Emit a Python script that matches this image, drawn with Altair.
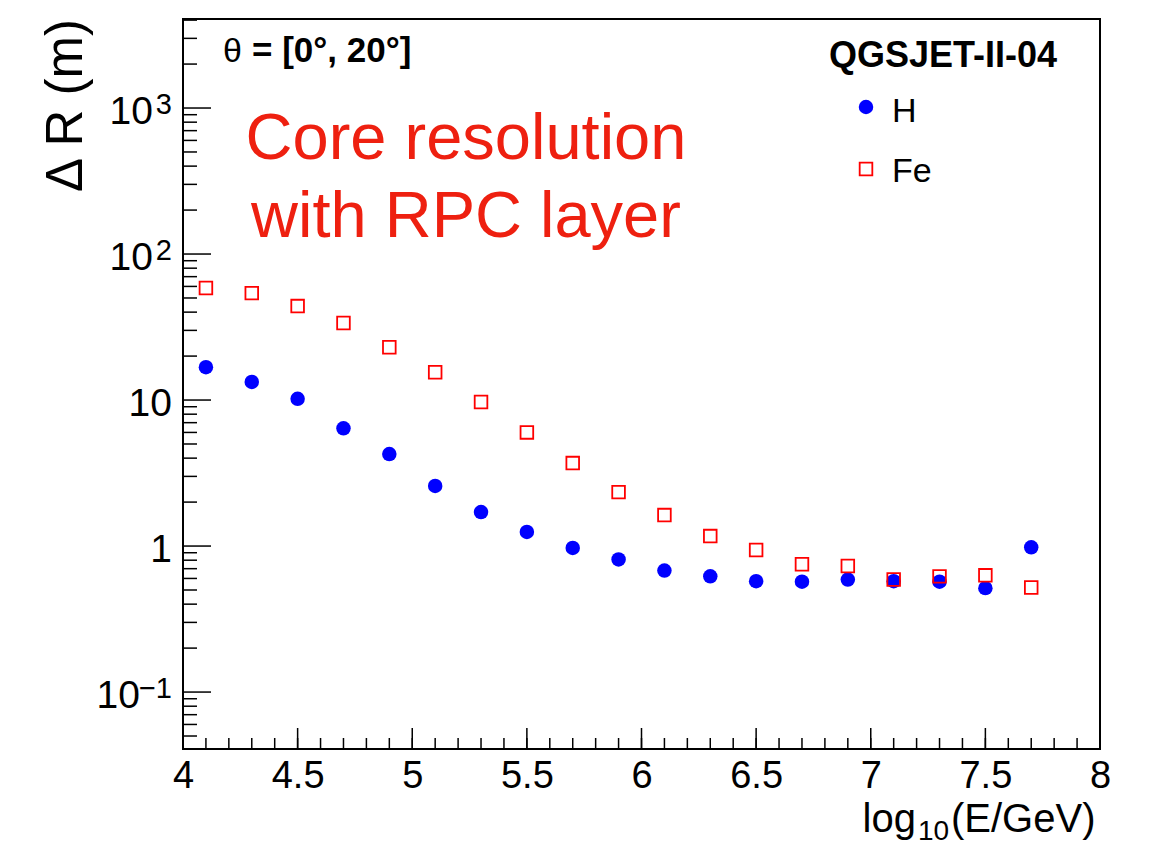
import altair as alt
import pandas as pd

# ---- data ----
E_BINS = [4.1, 4.3, 4.5, 4.7, 4.9, 5.1, 5.3, 5.5, 5.7, 5.9,
          6.1, 6.3, 6.5, 6.7, 6.9, 7.1, 7.3, 7.5, 7.7]
DR_H = [16.8, 13.3, 10.2, 6.4, 4.27, 2.58, 1.71, 1.25, 0.97, 0.81,
        0.68, 0.62, 0.575, 0.57, 0.59, 0.575, 0.57, 0.515, 0.98]
DR_FE = [58.5, 54.0, 44.0, 33.7, 23.0, 15.5, 9.7, 6.0, 3.7, 2.34,
         1.63, 1.17, 0.94, 0.75, 0.73, 0.59, 0.62, 0.63, 0.52]

X_MAJOR = [4.0, 4.5, 5.0, 5.5, 6.0, 6.5, 7.0, 7.5, 8.0]
X_MINOR = [round(4.0 + 0.1 * i, 1) for i in range(41)]
Y_MAJOR = [0.1, 1, 10, 100, 1000]
Y_LABEL_BASE = ["10", "1", "10", "10", "10"]
Y_LABEL_EXP = ["−1", "", "", "2", "3"]
Y_MINOR = [m * 10.0 ** k for k in range(-2, 4) for m in range(2, 10)]
Y_MINOR = [v for v in Y_MINOR if 0.0408 < v < 4070]

X_DOMAIN = [4, 8]
Y_DOMAIN = [0.04074, 4071]

W, H = 917, 730
FONT = "Liberation Sans"
RED_TEXT = "#ee2010"

xscale = alt.Scale(domain=X_DOMAIN, nice=False, zero=False)
yscale = alt.Scale(type="log", domain=Y_DOMAIN, nice=False)

xaxis = alt.Axis(values=X_MAJOR, format="~g", ticks=False, tickSize=0, domain=False,
                 grid=False, labelFont=FONT, labelFontSize=38, labelColor="black",
                 labelPadding=8, labelFlush=False, title="")
yaxis = alt.Axis(values=Y_MAJOR, ticks=False, tickSize=0, domain=False, grid=False,
                 labels=False, title="")

df_h = pd.DataFrame({"x": E_BINS, "y": DR_H})
df_fe = pd.DataFrame({"x": E_BINS, "y": DR_FE})

h_pts = alt.Chart(df_h).mark_point(shape="circle", filled=True, color="#0000ff",
                                   size=210, opacity=1).encode(
    x=alt.X("x:Q", scale=xscale, axis=xaxis),
    y=alt.Y("y:Q", scale=yscale, axis=yaxis),
)
fe_pts = alt.Chart(df_fe).mark_point(shape="square", filled=False, color="#ff0000",
                                     size=160, strokeWidth=1.8, opacity=1).encode(
    x=alt.X("x:Q", scale=xscale, axis=xaxis),
    y=alt.Y("y:Q", scale=yscale, axis=yaxis),
)

# inward ROOT-style ticks
ymaj = alt.Chart(pd.DataFrame({"y": Y_MAJOR})).mark_rule(color="black", strokeWidth=1.5).encode(
    y=alt.Y("y:Q", scale=yscale, axis=yaxis), x=alt.value(0), x2=alt.value(28))
ymin = alt.Chart(pd.DataFrame({"y": Y_MINOR})).mark_rule(color="black", strokeWidth=1.5).encode(
    y=alt.Y("y:Q", scale=yscale, axis=yaxis), x=alt.value(0), x2=alt.value(14))
xmaj = alt.Chart(pd.DataFrame({"x": X_MAJOR})).mark_rule(color="black", strokeWidth=1.5).encode(
    x=alt.X("x:Q", scale=xscale, axis=xaxis), y=alt.value(H), y2=alt.value(H - 21))
xmin = alt.Chart(pd.DataFrame({"x": X_MINOR})).mark_rule(color="black", strokeWidth=1.5).encode(
    x=alt.X("x:Q", scale=xscale, axis=xaxis), y=alt.value(H), y2=alt.value(H - 11))

# y tick labels with real superscripts (ROOT style)
ylab_df = pd.DataFrame({"y": Y_MAJOR, "b": Y_LABEL_BASE, "e": Y_LABEL_EXP})
ylab_base = alt.Chart(ylab_df)


def ybase(filt, x):
    return ylab_base.transform_filter(filt).mark_text(
        font=FONT, fontSize=39, align="right", baseline="alphabetic", dy=16, color="black").encode(
        y=alt.Y("y:Q", scale=yscale, axis=yaxis), x=alt.value(x), text="b:N")


ylab_plain = ybase("datum.e == ''", -11)
ylab_e1 = ybase("length(datum.e) == 1", -30)
ylab_e2 = ybase("length(datum.e) == 2", -43)
ylab_exp = ylab_base.transform_filter("datum.e != ''").mark_text(
    font=FONT, fontSize=29, align="right", baseline="alphabetic", dy=6, color="black").encode(
    y=alt.Y("y:Q", scale=yscale, axis=yaxis), x=alt.value(-11), text="e:N")


def label(text, x, y, size, **kw):
    return alt.Chart(pd.DataFrame({"t": [text]})).mark_text(
        font=FONT, fontSize=size, **kw).encode(
        x=alt.value(x), y=alt.value(y), text="t:N")


texts = [
    # axis titles
    label("Δ R (m)", -101, 0, 51, angle=270, align="right", baseline="alphabetic", color="black"),
    label("log", 733, 813, 40, align="right", baseline="alphabetic", color="black"),
    label("10", 735, 821, 28, align="left", baseline="alphabetic", color="black"),
    label("(E/GeV)", 768, 813, 40, align="left", baseline="alphabetic", color="black"),
    # header texts
    label("θ", 40, 43, 34, align="left", baseline="alphabetic", color="black"),
    label("= [0°, 20°]", 69, 43, 35, align="left", baseline="alphabetic",
          color="black", fontWeight="bold"),
    label("QGSJET-II-04", 760, 48, 36, align="center", baseline="alphabetic",
          color="black", fontWeight="bold"),
    label("H", 709, 103, 34, align="left", baseline="alphabetic", color="black"),
    label("Fe", 709, 163, 34, align="left", baseline="alphabetic", color="black"),
    label("Core resolution", 283, 140, 65, align="center", baseline="alphabetic", color=RED_TEXT),
    label("with RPC layer", 283, 218, 65, align="center", baseline="alphabetic", color=RED_TEXT),
]

leg_h = alt.Chart(pd.DataFrame({"t": ["H"]})).mark_point(
    shape="circle", filled=True, color="#0000ff", size=210, opacity=1).encode(
    x=alt.value(683), y=alt.value(88))
leg_fe = alt.Chart(pd.DataFrame({"t": ["Fe"]})).mark_point(
    shape="square", filled=False, color="#ff0000", size=160, strokeWidth=1.8, opacity=1).encode(
    x=alt.value(683), y=alt.value(150))

chart = alt.layer(h_pts, fe_pts, ymaj, ymin, xmaj, xmin,
                  ylab_plain, ylab_e1, ylab_e2, ylab_exp,
                  leg_h, leg_fe, *texts).properties(
    width=W, height=H,
    autosize=alt.AutoSizeParams(type="none"),
    padding={"left": 175, "top": 11, "right": 40, "bottom": 93},
    background="white",
).configure_view(stroke="black", strokeWidth=2)

chart.save("out.html", embed_options={"renderer": "svg", "actions": False})
